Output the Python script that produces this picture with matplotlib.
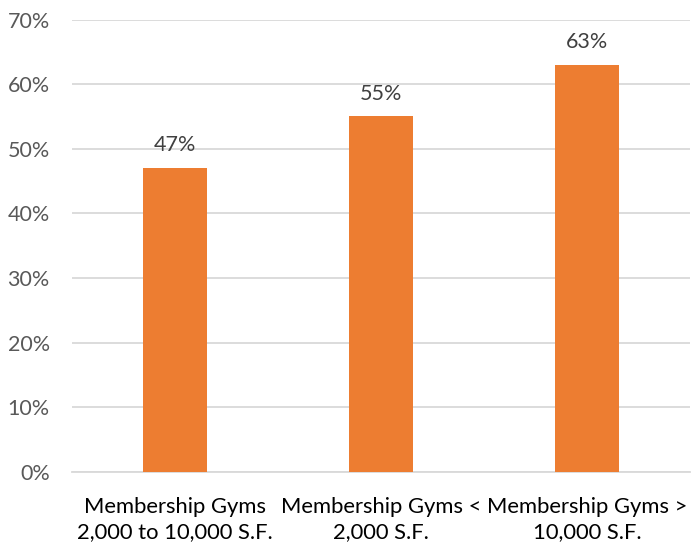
import matplotlib
matplotlib.use("Agg")
import matplotlib.pyplot as plt
from matplotlib.ticker import FuncFormatter

categories = ["Membership Gyms\n2,000 to 10,000 S.F.",
              "Membership Gyms <\n2,000 S.F.",
              "Membership Gyms >\n10,000 S.F."]
values = [47, 55, 63]
yticks = [0, 10, 20, 30, 40, 50, 60, 70]

plt.rcParams['font.family'] = ['Lato', 'DejaVu Sans']

fig = plt.figure(figsize=(6.91, 5.43), dpi=100)
ax = fig.add_axes([72/691, 71/543, 618/691, (472-19.5)/543])

x = range(len(categories))
ax.bar(x, values, width=0.31, color="#ED7D31", zorder=3)
for xi, v in zip(x, values):
    ax.text(xi, v + 2.0, f"{v}%", ha="center", va="bottom",
            fontsize=15.5, color="#404040")

ax.set_xlim(-0.5, len(categories) - 0.5)
ax.set_ylim(0, 70)
ax.set_yticks(yticks)
ax.yaxis.set_major_formatter(FuncFormatter(lambda v, p: f"{int(v)}%"))
ax.set_xticks(list(x))
ax.set_xticklabels(categories, fontsize=15.8, color="#000000", linespacing=1.3)
ax.tick_params(axis="y", labelsize=15.5, labelcolor="#595959", length=0, pad=16)
ax.tick_params(axis="x", length=0, pad=18)
ax.grid(axis="y", color="#D9D9D9", linewidth=1.3, zorder=0)
for s in ["top", "right", "left"]:
    ax.spines[s].set_visible(False)
ax.spines["bottom"].set_color("#D9D9D9")
ax.spines["bottom"].set_linewidth(1.3)

fig.savefig("out.png", dpi=100)
